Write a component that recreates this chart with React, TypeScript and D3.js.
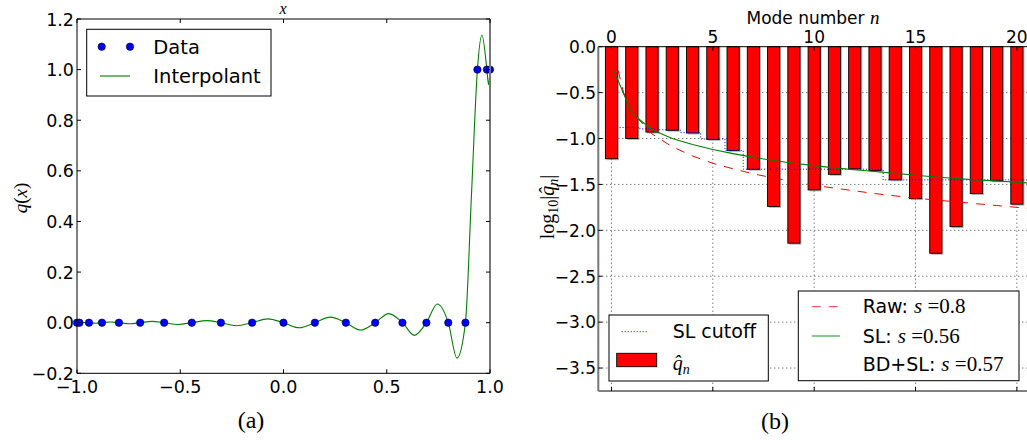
import React from 'react';
import * as d3 from 'd3';

// ---- Panel (a): interpolation nodes with their step data ----
const nodeX = [-1, -0.988, -0.942, -0.879, -0.797, -0.694, -0.578, -0.444, -0.303, -0.152, 0,
  0.152, 0.302, 0.444, 0.576, 0.692, 0.798, 0.881, 0.939, 0.985, 1];
const nodeQ = [0, 0, 0, 0, 0, 0, 0, 0, 0, 0, 0, 0, 0, 0, 0, 0, 0, 0, 1, 1, 1];
// Interpolant: passes through the nodes, with the overshoots between them
const curveX = [-1, -0.994, -0.988, -0.965, -0.942, -0.91, -0.879, -0.838, -0.797, -0.745, -0.694,
  -0.636, -0.578, -0.511, -0.444, -0.373, -0.303, -0.228, -0.152, -0.076, 0, 0.076, 0.152, 0.227,
  0.302, 0.373, 0.444, 0.51, 0.576, 0.634, 0.692, 0.745, 0.798, 0.84, 0.881, 0.91, 0.939, 0.961,
  0.985, 0.993, 1];
const curveQ = [0, 0, 0, 0.001, 0, -0.002, 0, 0.003, 0, -0.004, 0, 0.005, 0, -0.007, 0, 0.008, 0,
  -0.012, 0, 0.015, 0, -0.02, 0, 0.022, 0, -0.029, 0, 0.036, 0, -0.05, 0, 0.074, 0, -0.14, 0, 0.5, 1,
  1.137, 1, 0.94, 1];
const aXTicks = [-1, -0.5, 0, 0.5, 1];
const aYTicks = [-0.2, 0, 0.2, 0.4, 0.6, 0.8, 1.0, 1.2];

// ---- Panel (b): mode spectrum ----
const modeN = [0, 1, 2, 3, 4, 5, 6, 7, 8, 9, 10, 11, 12, 13, 14, 15, 16, 17, 18, 19, 20];
const logQ = [-1.22, -1.0, -0.93, -0.91, -0.94, -1.01, -1.13, -1.335, -1.74, -2.14, -1.56,
  -1.39, -1.33, -1.35, -1.45, -1.655, -2.25, -1.96, -1.6, -1.46, -1.715];
const cutN = [0.4, 1.4, 2.3, 3.4, 4.4, 5.6, 6.5, 13.4, 20.6];
const cutV = [-0.88, -0.895, -0.905, -0.935, -1.005, -1.13, -1.334, -1.45, -1.45];
const slN = [0.12, 1, 2, 3, 4, 5, 6, 7, 8, 9, 10, 11, 12, 13, 14, 15, 16, 17, 18, 19, 20, 20.6];
const slV = [-0.26, -0.725, -0.905, -1.0, -1.065, -1.12, -1.165, -1.205, -1.24, -1.27, -1.295,
  -1.32, -1.34, -1.36, -1.38, -1.4, -1.42, -1.435, -1.45, -1.462, -1.475, -1.485];
const rawN = [0.33, 0.6, 1, 2, 3, 4, 5, 6, 7, 8, 9, 10, 11, 12, 13, 14, 15, 16, 17, 18, 19, 20, 20.6];
const rawV = [-0.26, -0.5, -0.71, -0.95, -1.09, -1.19, -1.27, -1.33, -1.385, -1.43, -1.47, -1.51,
  -1.54, -1.57, -1.6, -1.625, -1.65, -1.67, -1.69, -1.71, -1.73, -1.75, -1.76];
const bXTicks = [0, 5, 10, 15, 20];
const bYTicks = [0, -0.5, -1.0, -1.5, -2.0, -2.5, -3.0, -3.5];

const SANS = "'DejaVu Sans', sans-serif";
const MATH = "'Liberation Serif', 'Times New Roman', serif";

const fmt = (v: number) => {
  const s = d3.format('.1f')(Math.abs(v));
  return v < 0 ? '\u2212' + s : s;
};

function PanelA() {
  const L = 77, R = 490, T = 19, B = 373.3;
  const x = d3.scaleLinear().domain([-1, 1]).range([L, R]);
  const y = d3.scaleLinear().domain([-0.2, 1.2]).range([B, T]);
  const curvePts = curveX.map((v, i) => [v, curveQ[i]] as [number, number]);
  const line = d3.line<[number, number]>().x(d => x(d[0])).y(d => y(d[1])).curve(d3.curveMonotoneX);
  return (
    <g>
      <defs>
        <clipPath id="clipA"><rect x={L} y={T} width={R - L} height={B - T} /></clipPath>
      </defs>
      <path d={line(curvePts) || ''} fill="none" stroke="#008000" strokeWidth={1.1} clipPath="url(#clipA)" />
      {nodeX.map((v, i) => (
        <circle key={i} cx={x(v)} cy={y(nodeQ[i])} r={3.7} fill="#0000ff" stroke="#000" strokeWidth={0.6} />
      ))}
      {/* spines */}
      <line x1={L} x2={R} y1={T} y2={T} stroke="#000" />
      <line x1={L} x2={R} y1={B} y2={B} stroke="#000" />
      <line x1={L} x2={L} y1={T} y2={B} stroke="#000" />
      <line x1={R} x2={R} y1={T} y2={B} stroke="#777" strokeWidth={2} />
      {aXTicks.map(v => (
        <g key={v}>
          <line x1={x(v)} x2={x(v)} y1={T} y2={T + 4} stroke="#000" />
          <line x1={x(v)} x2={x(v)} y1={B} y2={B - 4} stroke="#000" />
          <text x={x(v)} y={392.5} textAnchor="middle" fontFamily={SANS} fontSize={17.5}>{fmt(v)}</text>
        </g>
      ))}
      {aYTicks.map(v => (
        <g key={v}>
          <line x1={L} x2={L + 4} y1={y(v)} y2={y(v)} stroke="#000" />
          <line x1={R} x2={R - 4} y1={y(v)} y2={y(v)} stroke="#000" />
          <text x={74} y={y(v) + 6.5} textAnchor="end" fontFamily={SANS} fontSize={17.5}>{fmt(v)}</text>
        </g>
      ))}
      <text x={283} y={14} textAnchor="middle" fontFamily={MATH} fontStyle="italic" fontSize={16}>x</text>
      <text transform="translate(27,198) rotate(-90)" textAnchor="middle" fontFamily={MATH} fontSize={19}>
        <tspan fontStyle="italic">q</tspan>(<tspan fontStyle="italic">x</tspan>)
      </text>
      {/* legend */}
      <rect x={86.7} y={29.3} width={184.3} height={66.7} fill="#fff" stroke="#000" strokeWidth={1} />
      <circle cx={101.7} cy={46.7} r={3.7} fill="#0000ff" stroke="#000" strokeWidth={0.6} />
      <circle cx={130} cy={46.7} r={3.7} fill="#0000ff" stroke="#000" strokeWidth={0.6} />
      <text x={153.3} y={54} fontFamily={SANS} fontSize={19.5}>Data</text>
      <line x1={100} x2={130} y1={76} y2={76} stroke="#008000" strokeWidth={1.1} />
      <text x={153.3} y={83.3} fontFamily={SANS} fontSize={19.5}>Interpolant</text>
      <text x={251} y={428} textAnchor="middle" fontFamily={MATH} fontSize={24}>(a)</text>
    </g>
  );
}

function PanelB() {
  const L = 598.3, T = 46.7, B = 391;
  const x = d3.scaleLinear().domain([-0.65, 20.6]).range([L, L + 21.25 * 20.27]);
  const y = d3.scaleLinear().domain([-3.75, 0]).range([B, T]);
  const R = x(20.6);
  const bw = x(0.6) - x(0);
  const pts = (ns: number[], vs: number[]) => ns.map((n, i) => [n, vs[i]] as [number, number]);
  const line = d3.line<[number, number]>().x(d => x(d[0])).y(d => y(d[1]));
  const step = d3.line<[number, number]>().x(d => x(d[0])).y(d => y(d[1])).curve(d3.curveStepAfter);
  return (
    <g>
      {/* grid */}
      {bYTicks.filter(v => v !== 0).map(v => (
        <line key={'gy' + v} x1={L} x2={R} y1={y(v)} y2={y(v)} stroke="#000" strokeWidth={1} strokeDasharray="1,3" opacity={0.75} />
      ))}
      {bXTicks.map(v => (
        <line key={'gx' + v} x1={x(v)} x2={x(v)} y1={T} y2={B} stroke="#000" strokeWidth={1} strokeDasharray="1,3" opacity={0.75} />
      ))}
      {/* bars with drop shadow */}
      {modeN.map((n, i) => (
        <rect key={'s' + n} x={x(n) - bw / 2 + 1.5} y={y(0)} width={bw} height={y(logQ[i]) - y(0) + 1.5}
          fill="#808080" opacity={0.55} />
      ))}
      {modeN.map((n, i) => (
        <rect key={'b' + n} x={x(n) - bw / 2} y={y(0)} width={bw} height={y(logQ[i]) - y(0)}
          fill="#ff0000" stroke="#000" strokeWidth={0.9} />
      ))}
      <path d={step(pts(cutN, cutV)) || ''} fill="none" stroke="#0000ff" strokeWidth={1} strokeDasharray="1,2" />
      <path d={line(pts(rawN, rawV)) || ''} fill="none" stroke="#ff0000" strokeWidth={1} strokeDasharray="9,8" />
      <path d={line(pts(slN, slV)) || ''} fill="none" stroke="#008000" strokeWidth={1.1} />
      {/* spines */}
      <line x1={L} x2={R} y1={T} y2={T} stroke="#000" />
      <line x1={L} x2={R} y1={B} y2={B} stroke="#000" />
      <line x1={L} x2={L} y1={T} y2={B} stroke="#777" strokeWidth={2} />
      {bXTicks.map(v => (
        <g key={'t' + v}>
          <line x1={x(v)} x2={x(v)} y1={T} y2={T + 4} stroke="#000" />
          <line x1={x(v)} x2={x(v)} y1={B} y2={B - 4} stroke="#000" />
          <text x={x(v)} y={43.3} textAnchor="middle" fontFamily={SANS} fontSize={17}>{v}</text>
        </g>
      ))}
      {bYTicks.map(v => (
        <g key={'ty' + v}>
          <line x1={L} x2={L + 4} y1={y(v)} y2={y(v)} stroke="#000" />
          <text x={596} y={y(v) + 6.3} textAnchor="end" fontFamily={SANS} fontSize={17}>{fmt(v)}</text>
        </g>
      ))}
      <text x={813} y={24.3} textAnchor="middle" fontFamily={SANS} fontSize={17}>
        Mode number <tspan fontFamily={MATH} fontStyle="italic" fontSize={19}>n</tspan>
      </text>
      <text transform="translate(554,207) rotate(-90)" textAnchor="middle" fontFamily={MATH} fontSize={20}>
        log<tspan fontSize={14} dy={4}>10</tspan><tspan dy={-4}>|</tspan><tspan fontStyle="italic">q̂</tspan><tspan fontStyle="italic" fontSize={14} dy={4}>n</tspan><tspan dy={-4}>|</tspan>
      </text>
      {/* legend: cutoff + spectrum */}
      <rect x={609} y={315} width={159.3} height={66} fill="#fff" stroke="#000" strokeWidth={1} />
      <line x1={621.7} x2={648.3} y1={331.7} y2={331.7} stroke="#0000ff" strokeDasharray="1,2" />
      <text x={672.7} y={337.5} fontFamily={SANS} fontSize={19}>SL cutoff</text>
      <rect x={616.7} y={353.3} width={40} height={13.4} fill="#ff0000" stroke="#000" strokeWidth={0.9} />
      <text x={672.7} y={370} fontFamily={MATH} fontSize={20}>
        <tspan fontStyle="italic">q̂</tspan><tspan fontStyle="italic" fontSize={14} dy={4}>n</tspan>
      </text>
      {/* legend: fitted slopes */}
      <rect x={798.3} y={291} width={220.7} height={89.7} fill="#fff" stroke="#000" strokeWidth={1} />
      <line x1={811.7} x2={840} y1={306.7} y2={306.7} stroke="#ff0000" strokeDasharray="9,8" opacity={0.8} />
      <text x={862.7} y={313.3} fontFamily={SANS} fontSize={19}>
        Raw: <tspan fontFamily={MATH} fontStyle="italic" fontSize={21}>s</tspan><tspan fontFamily={MATH} fontSize={21}> =0.8</tspan>
      </text>
      <line x1={811.7} x2={840} y1={336} y2={336} stroke="#008000" strokeWidth={1.1} opacity={0.8} />
      <text x={862.7} y={342.7} fontFamily={SANS} fontSize={19}>
        SL: <tspan fontFamily={MATH} fontStyle="italic" fontSize={21}>s</tspan><tspan fontFamily={MATH} fontSize={21}> =0.56</tspan>
      </text>
      <text x={862.7} y={371} fontFamily={SANS} fontSize={19}>
        BD+SL: <tspan fontFamily={MATH} fontStyle="italic" fontSize={21}>s</tspan><tspan fontFamily={MATH} fontSize={21}> =0.57</tspan>
      </text>
      <text x={775} y={429} textAnchor="middle" fontFamily={MATH} fontSize={24}>(b)</text>
    </g>
  );
}

export default function App() {
  return (
    <svg width={1027} height={440} style={{ position: 'absolute', left: 0, top: 0, background: '#fff' }}>
      <rect x={0} y={0} width={1027} height={440} fill="#fff" />
      <PanelA />
      <PanelB />
    </svg>
  );
}
